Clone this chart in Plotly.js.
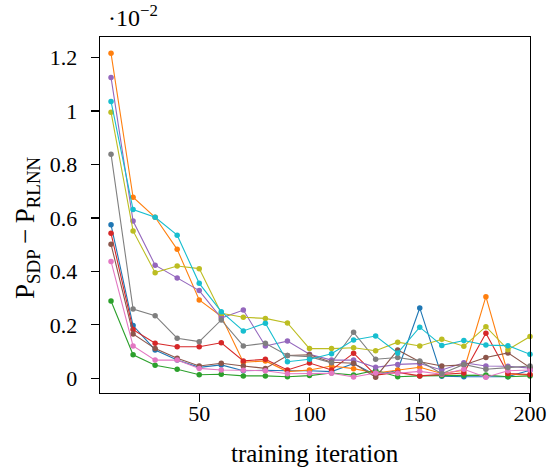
<!DOCTYPE html>
<html>
<head>
<meta charset="utf-8">
<script src="https://cdn.plot.ly/plotly-3.0.1.min.js"></script>
<style>
  html, body { margin: 0; padding: 0; background: #fff; }
  #chart { width: 554px; height: 469px; }
</style>
</head>
<body>
<div id="chart"></div>
<script>
// Training iterations (x) and the gap P_SDP - P_RLNN for ten runs, in units of 1e-2
const iterations = [10, 20, 30, 40, 50, 60, 70, 80, 90, 100, 110, 120, 130, 140, 150, 160, 170, 180, 190, 200];

const run0 = [0.574, 0.197, 0.106, 0.068, 0.041, 0.050, 0.028, 0.030, 0.028, 0.028, 0.025, 0.055, 0.012, 0.030, 0.263, 0.008, 0.006, 0.006, 0.006, 0.030];
const run1 = [1.215, 0.677, 0.602, 0.482, 0.293, 0.232, 0.060, 0.065, 0.025, 0.031, 0.046, 0.036, 0.020, 0.031, 0.041, 0.018, 0.030, 0.305, 0.016, 0.012];
const run2 = [0.289, 0.088, 0.049, 0.034, 0.013, 0.015, 0.009, 0.009, 0.006, 0.010, 0.020, 0.012, 0.030, 0.006, 0.009, 0.010, 0.011, 0.012, 0.006, 0.009];
const run3 = [0.542, 0.182, 0.131, 0.118, 0.118, 0.133, 0.065, 0.071, 0.031, 0.057, 0.031, 0.094, 0.012, 0.022, 0.009, 0.015, 0.020, 0.168, 0.018, 0.014];
const run4 = [1.125, 0.588, 0.423, 0.375, 0.328, 0.225, 0.255, 0.121, 0.139, 0.090, 0.068, 0.068, 0.041, 0.052, 0.055, 0.031, 0.058, 0.046, 0.045, 0.038];
const run5 = [0.501, 0.166, 0.111, 0.075, 0.046, 0.056, 0.046, 0.037, 0.085, 0.088, 0.060, 0.056, 0.004, 0.106, 0.062, 0.046, 0.050, 0.078, 0.095, 0.040];
const run6 = [0.437, 0.121, 0.068, 0.068, 0.037, 0.031, 0.030, 0.028, 0.017, 0.019, 0.019, 0.005, 0.020, 0.019, 0.026, 0.015, 0.034, 0.004, 0.028, 0.031];
const run7 = [0.838, 0.259, 0.234, 0.150, 0.137, 0.218, 0.121, 0.131, 0.085, 0.081, 0.058, 0.172, 0.071, 0.078, 0.065, 0.017, 0.052, 0.034, 0.040, 0.046];
const run8 = [0.995, 0.551, 0.395, 0.420, 0.410, 0.243, 0.228, 0.224, 0.207, 0.111, 0.111, 0.114, 0.103, 0.135, 0.121, 0.146, 0.120, 0.193, 0.107, 0.156];
const run9 = [1.035, 0.631, 0.602, 0.535, 0.355, 0.249, 0.177, 0.206, 0.062, 0.071, 0.092, 0.143, 0.158, 0.095, 0.191, 0.123, 0.141, 0.124, 0.122, 0.090];

const runs = [run0, run1, run2, run3, run4, run5, run6, run7, run8, run9];
const colors = ['#1f77b4', '#ff7f0e', '#2ca02c', '#d62728', '#9467bd',
                '#8c564b', '#e377c2', '#7f7f7f', '#bcbd22', '#17becf'];

const yTickVals = [0, 0.2, 0.4, 0.6, 0.8, 1.0, 1.2];
const yTickText = ['0', '0.2', '0.4', '0.6', '0.8', '1', '1.2'];
const xTickVals = [50, 100, 150, 200];

const xLabel = 'training iteration';
const yLabel = 'P<sub>SDP</sub>\u2009\u2212\u2009P<sub>RLNN</sub>';
const scaleLabel = '·10<sup>−2</sup>';

const serif = "'Liberation Serif', 'DejaVu Serif', serif";

const traces = runs.map((ys, i) => ({
  x: iterations,
  y: ys,
  type: 'scatter',
  mode: 'lines+markers',
  line: { color: colors[i], width: 1.1 },
  marker: { color: colors[i], size: 5.5 },
  cliponaxis: false,
  showlegend: false,
  hoverinfo: 'skip'
}));

const axisCommon = {
  showline: true,
  mirror: true,
  linecolor: '#000',
  linewidth: 1.4,
  ticks: 'outside',
  ticklen: 8,
  tickwidth: 1.4,
  tickcolor: '#000',
  showgrid: false,
  zeroline: false,
  automargin: false,
  tickfont: { family: serif, size: 22, color: '#000' }
};

const layout = {
  width: 554,
  height: 469,
  margin: { l: 100, r: 24, t: 37, b: 76 },
  paper_bgcolor: '#fff',
  plot_bgcolor: '#fff',
  xaxis: Object.assign({}, axisCommon, {
    range: [5, 200],
    tickvals: xTickVals,
    ticktext: xTickVals.map(String),
    ticklabelstandoff: -8
  }),
  yaxis: Object.assign({}, axisCommon, {
    range: [-0.055, 1.276],
    tickvals: yTickVals,
    ticktext: yTickText,
    ticklabelstandoff: 9
  }),
  annotations: [
    {
      // multiplier for the y values
      text: scaleLabel,
      xref: 'paper', yref: 'paper',
      x: 0, y: 1,
      xanchor: 'left', yanchor: 'bottom',
      xshift: 6, yshift: 4,
      showarrow: false,
      font: { family: serif, size: 24, color: '#000' }
    },
    {
      // x axis title
      text: xLabel,
      xref: 'paper', yref: 'paper',
      x: 0.5, y: 0,
      xanchor: 'center', yanchor: 'middle',
      yshift: -60,
      showarrow: false,
      font: { family: serif, size: 25, color: '#000' }
    },
    {
      // y axis title
      text: yLabel,
      xref: 'paper', yref: 'paper',
      x: 0, y: 0.5,
      xanchor: 'center', yanchor: 'middle',
      xshift: -73, yshift: -13,
      textangle: -90,
      showarrow: false,
      font: { family: serif, size: 27, color: '#000' }
    }
  ]
};

Plotly.newPlot('chart', traces, layout, { displayModeBar: false, staticPlot: true });
</script>
</body>
</html>
